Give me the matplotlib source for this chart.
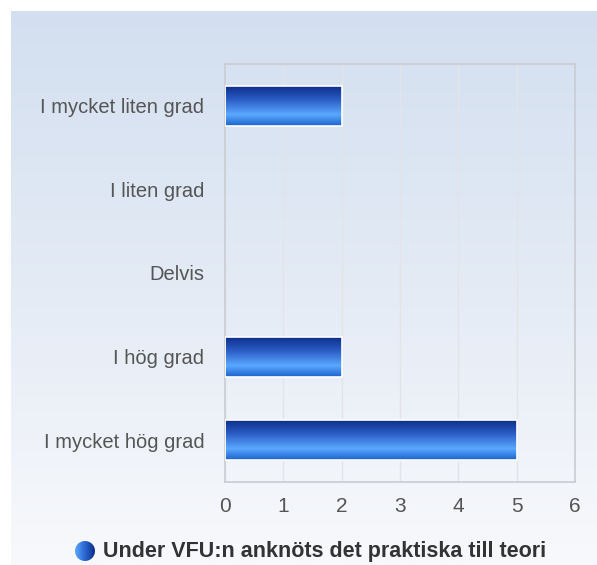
import matplotlib
matplotlib.use("Agg")
import matplotlib.pyplot as plt
import numpy as np
from matplotlib.colors import LinearSegmentedColormap
from matplotlib.patches import Circle

categories = ["I mycket liten grad", "I liten grad", "Delvis", "I hög grad", "I mycket hög grad"]
values = [2, 0, 0, 2, 5]
ticks = [0, 1, 2, 3, 4, 5, 6]
series_name = "Under VFU:n anknöts det praktiska till teori"

W, H = 597, 565
plt.rcParams["font.family"] = ["Liberation Sans", "DejaVu Sans"]

fig = plt.figure(figsize=(W / 100, H / 100), dpi=100)

# background panel in pixel coordinates
bg = fig.add_axes([0, 0, 1, 1])
bg.set_xlim(0, W)
bg.set_ylim(H, 0)
bg.axis("off")
panel_cmap = LinearSegmentedColormap.from_list("panel", ["#d3dff0", "#e4ebf5", "#f8f9fc"])
grad = np.linspace(0, 1, 256).reshape(-1, 1)
bg.imshow(grad, cmap=panel_cmap, extent=[11, W, H, 11], aspect="auto", zorder=0)

bar_cmap = LinearSegmentedColormap.from_list(
    "bar", [(0, "#0b2b88"), (0.35, "#2a5cc4"), (0.72, "#5aa8ff"), (1, "#1c62cc")])

# legend marker: gradient circle
circ = Circle((85, 551), 10, transform=bg.transData, facecolor="none", edgecolor="none")
bg.add_patch(circ)
hgrad = np.linspace(0, 1, 256).reshape(1, -1)
lc = LinearSegmentedColormap.from_list("leg", ["#5aa8ff", "#2a66d0", "#0b2b88"])
im = bg.imshow(hgrad, cmap=lc, extent=[75, 95, 561, 541], aspect="auto", zorder=2)
im.set_clip_path(circ)
fig.text(103 / W, 1 - 552 / H, series_name, ha="left", va="center",
         fontsize=15.5, fontweight="bold", color="#333333")

ax = fig.add_axes([225 / W, 1 - 482 / H, 350 / W, 418 / H])
ax.patch.set_alpha(0)
y = np.arange(len(categories))
bars = ax.barh(y, values, height=0.48, color="none", edgecolor="white", lw=1.2, zorder=3)
for b in bars:
    w = b.get_width()
    if w <= 0:
        b.set_visible(False)
        continue
    x0, y0, h = b.get_x(), b.get_y(), b.get_height()
    g = ax.imshow(grad, cmap=bar_cmap, extent=[x0, x0 + w, y0 + h, y0],
                  aspect="auto", zorder=2)
    g.set_clip_path(b)

ax.set_xlim(0, 6)
ax.set_ylim(len(categories) - 0.5, -0.5)
ax.set_xticks(ticks)
ax.set_yticks(y)
ax.set_yticklabels(categories)
ax.xaxis.grid(True, color="#e2e4e8", lw=1.0, zorder=0)
ax.set_axisbelow(True)
for s in ax.spines.values():
    s.set_color("#c9ccd2")
    s.set_linewidth(1.2)
ax.tick_params(axis="both", length=0, colors="#555555")
ax.tick_params(axis="x", pad=11, labelsize=15)
ax.tick_params(axis="y", pad=15, labelsize=14.5)

fig.savefig("out.png", dpi=100, facecolor="white")
